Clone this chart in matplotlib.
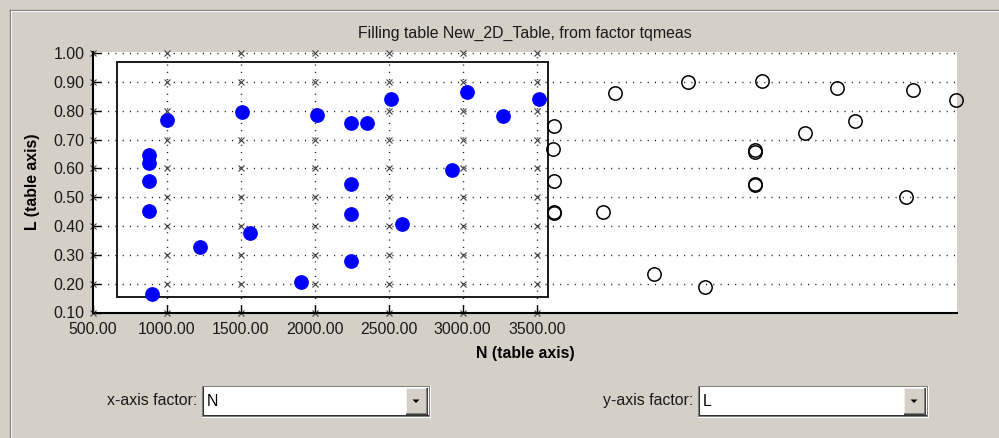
import matplotlib
matplotlib.use("Agg")
import matplotlib.pyplot as plt
from matplotlib.patches import Rectangle, Polygon
from matplotlib.lines import Line2D

plt.rcParams['font.family'] = ['Liberation Sans', 'DejaVu Sans']

# ---------------- data ----------------
title = "Filling table New_2D_Table, from factor tqmeas"
x_label = "N (table axis)"
y_label = "L (table axis)"

N_breakpoints = [500, 1000, 1500, 2000, 2500, 3000, 3500]
L_breakpoints = [0.10, 0.20, 0.30, 0.40, 0.50, 0.60, 0.70, 0.80, 0.90, 1.00]

# points inside the table range (filled blue)
in_N = [880, 880, 880, 880, 903, 1000, 1225, 1509, 1563, 1907, 2018,
        2243, 2351, 2243, 2243, 2243, 2516, 2592, 2926, 3027, 3270, 3518]
in_L = [0.648, 0.619, 0.556, 0.452, 0.164, 0.770, 0.327, 0.797, 0.377, 0.205, 0.787,
        0.758, 0.758, 0.546, 0.441, 0.280, 0.843, 0.406, 0.596, 0.866, 0.781, 0.843]

# points outside (open circles)
out_N = [3619, 3608, 3617, 3617, 3620, 4029, 3950, 4524, 4295, 4637, 5024,
         4975, 4978, 4975, 4978, 5313, 5531, 5651, 6041, 5995, 6333]
out_L = [0.746, 0.668, 0.556, 0.450, 0.446, 0.862, 0.450, 0.899, 0.232, 0.187, 0.904,
         0.664, 0.656, 0.546, 0.543, 0.724, 0.881, 0.765, 0.872, 0.502, 0.837]

region_N = [662, 3574]
region_L = [0.153, 0.971]

x_factor = "N"
y_factor = "L"

# ---------------- layout helpers ----------------
W, H = 999, 438
BG = '#D4D0C8'
TXT = '#1a1a1a'
FS = 11.4

fig = plt.figure(figsize=(W / 100, H / 100), dpi=100, facecolor=BG)

def fx(x):
    return x / W

def fy(y):
    return 1 - y / H

# panel frame
fig.add_artist(Line2D([fx(10), fx(999)], [fy(9.5), fy(9.5)], color='#808080', lw=1.0))
fig.add_artist(Line2D([fx(10), fx(999)], [fy(11), fy(11)], color='#F4F4F4', lw=0.8))
fig.add_artist(Line2D([fx(9.5), fx(9.5)], [fy(9.5), fy(438)], color='#808080', lw=1.0))
fig.add_artist(Line2D([fx(11), fx(11)], [fy(11), fy(438)], color='#F4F4F4', lw=0.8))

# ---------------- axes ----------------
left, right, top, bottom = 92.7, 957, 52, 312.5
ax = fig.add_axes([fx(left), fy(bottom), (right - left) / W, (bottom - top) / H])
ax.set_facecolor('white')
ax.set_xlim(500, 6340)
ax.set_ylim(0.1, 1.0045)

for s in ['top', 'right']:
    ax.spines[s].set_visible(False)
for s in ['left', 'bottom']:
    ax.spines[s].set_linewidth(1.5)
    ax.spines[s].set_color('black')
    ax.spines[s].set_zorder(6)

ax.set_xticks(N_breakpoints)
ax.set_xticklabels([f"{v:.2f}" for v in N_breakpoints])
ax.set_yticks(L_breakpoints)
ax.set_yticklabels([f"{v:.2f}" for v in L_breakpoints])
ax.tick_params(direction='in', length=6, width=1.0, colors='black',
               labelcolor=TXT, labelsize=FS)
ax.tick_params(axis='y', pad=6)
ax.tick_params(axis='x', pad=7)

# dotted grid
dots = (0, (0.75, 4.5))
for L in L_breakpoints:
    ax.axhline(L, color='#101010', lw=1.0, linestyle=dots, zorder=1)
for N in N_breakpoints[1:]:
    ax.plot([N, N], [L_breakpoints[0], ax.get_ylim()[1]], color='#101010', lw=1.0,
            linestyle=dots, zorder=1)

# table breakpoint markers
gx = [n for n in N_breakpoints for _ in L_breakpoints]
gy = [l for _ in N_breakpoints for l in L_breakpoints]
ax.plot(gx, gy, linestyle='none', marker='x', markersize=5, mew=0.8,
        color='#404040', zorder=2, clip_on=False)

# region rectangle
ax.add_patch(Rectangle((region_N[0], region_L[0]), region_N[1] - region_N[0],
                       region_L[1] - region_L[0], fill=False, ec='#1a1a1a', lw=1.4, zorder=3))

# data points
ax.plot(in_N, in_L, linestyle='none', marker='o', markersize=9.6, color='#0000FF',
        mec='#0000FF', zorder=5, clip_on=False)
ax.plot(out_N, out_L, linestyle='none', marker='o', markersize=9.6, mfc='none',
        mec='black', mew=1.1, zorder=5, clip_on=False)

ax.set_title(title, fontsize=FS, color=TXT, pad=10)
ax.set_xlabel(x_label, fontsize=FS, fontweight='bold', color='black', labelpad=6)
fig.text(fx(32), fy(182), y_label, rotation=90, fontsize=FS, fontweight='bold',
         color='black', ha='center', va='center')

# ---------------- combo boxes ----------------
def combo(x0, y0, x1, y1, label, value, lx):
    fig.text(fx(lx), fy((y0 + y1) / 2 - 1), label, fontsize=FS, color=TXT,
             ha='right', va='center')
    # outer highlight
    fig.add_artist(Rectangle((fx(x0), fy(y1 + 1)), (x1 - x0 + 1) / W, (y1 - y0 + 1) / H,
                             transform=fig.transFigure, fc='#F8F8F8', ec='none'))
    # dark sunken border
    fig.add_artist(Rectangle((fx(x0), fy(y1)), (x1 - x0) / W, (y1 - y0) / H,
                             transform=fig.transFigure, fc='#808080', ec='none'))
    fig.add_artist(Rectangle((fx(x0 + 1), fy(y1 - 1)), (x1 - x0 - 2) / W, (y1 - y0 - 2) / H,
                             transform=fig.transFigure, fc='#303030', ec='none'))
    fig.add_artist(Rectangle((fx(x0 + 2), fy(y1 - 2)), (x1 - x0 - 3) / W, (y1 - y0 - 3) / H,
                             transform=fig.transFigure, fc='white', ec='none'))
    # button
    bx0, bx1 = x1 - 24, x1 - 2
    by0, by1 = y0 + 2, y1 - 2
    fig.add_artist(Rectangle((fx(bx0), fy(by1)), (bx1 - bx0) / W, (by1 - by0) / H,
                             transform=fig.transFigure, fc='#404040', ec='none'))
    fig.add_artist(Rectangle((fx(bx0), fy(by1 - 1)), (bx1 - bx0 - 1) / W, (by1 - by0 - 1) / H,
                             transform=fig.transFigure, fc='#808080', ec='none'))
    fig.add_artist(Rectangle((fx(bx0), fy(by1 - 2)), (bx1 - bx0 - 2) / W, (by1 - by0 - 2) / H,
                             transform=fig.transFigure, fc='#F0F0F0', ec='none'))
    fig.add_artist(Rectangle((fx(bx0 + 1), fy(by1 - 2)), (bx1 - bx0 - 3) / W, (by1 - by0 - 3) / H,
                             transform=fig.transFigure, fc=BG, ec='none'))
    cx, cy = (bx0 + bx1) / 2 - 1, (by0 + by1) / 2 - 0.5
    fig.add_artist(Polygon([[fx(cx - 3.5), fy(cy - 1.5)], [fx(cx + 3.5), fy(cy - 1.5)],
                            [fx(cx), fy(cy + 2)]], closed=True,
                           transform=fig.transFigure, fc='black', ec='none'))
    fig.text(fx(x0 + 5), fy((y0 + y1) / 2 + 0.5), value, fontsize=FS, color='black',
             ha='left', va='center')

combo(202, 386, 430, 417, "x-axis factor:", x_factor, 197)
combo(698, 386, 928, 417, "y-axis factor:", y_factor, 693)

fig.savefig("out.png", dpi=100, facecolor=BG)
